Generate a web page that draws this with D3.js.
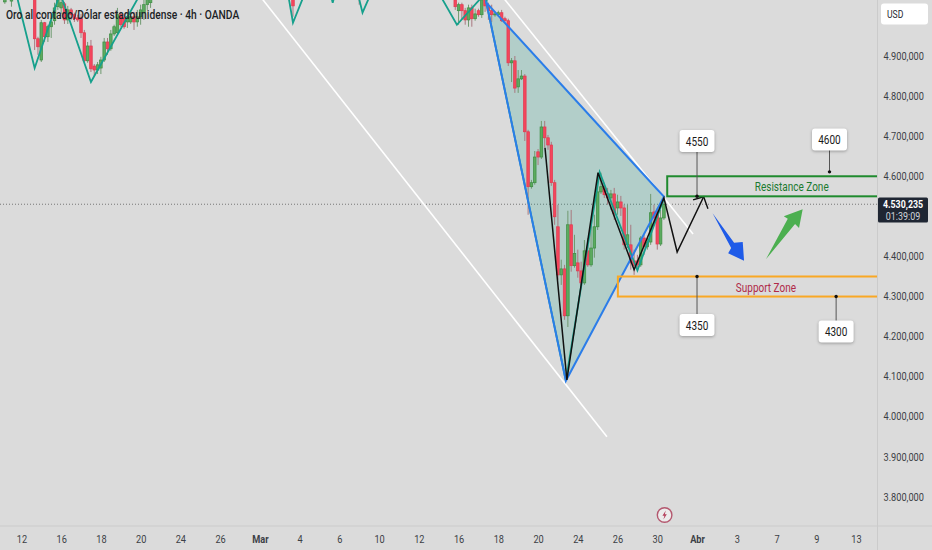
<!DOCTYPE html>
<html>
<head>
<meta charset="utf-8">
<script src="https://cdn.jsdelivr.net/npm/d3@7"></script>
<style>
	html, body { margin: 0; padding: 0; background: #dbdbdb; }
	svg { display: block; }
	text { font-family: Roboto, sans-serif; }
</style>
</head>
<body>
<svg id="canvas" width="932" height="550"></svg>
<script>
// 4h candles, prices
const bars = [-5,-3,4,5,6,7,8,9,10,11,12,13,14,15,16,17,18,19,20,21,22,23,24,25,26,27,28,29,30,31,32,33,34,35,36,37,38,39,
	82,102,
	131,132,133,134,135,136,137,138,139,140,141,142,143,144,145,146,147,148,149,150,151,152,153,154,155,156,157,158,159,160,161,162,163,164,165,166,167,168,169,170,171,172,173,174,175,176,177,178,179,180,181,182,183,184,185,186,187,188,189,190,191,192,193,194];
const opens = [5035,5037,5077,4943,4890,4983,4948,4973,4988,5023,5020,5030,4990,5015,5003,4995,4995,4958,4888,4925,4875,4865,4870,4890,4935,4918,4955,4958,5003,4995,4985,4985,4998,4985,4998,5008,5028,5033,
	5045,5060,
	5040,5013,5028,5013,4990,5020,4993,5013,5003,5040,5025,5013,5003,5003,5008,4993,4988,4883,4888,4823,4843,4850,4711,4574,4584,4661,4648,4723,4696,4678,4584,4474,4354,4369,4252,4479,4377,4384,4364,4334,4414,4379,4421,4474,4561,4574,4556,4546,4556,4521,4536,4521,4429,4429,4389,4389,4379,4446,4424,4436,4511,4511,4431,4496];
const highs = [5060,5060,5090,4948,4990,4985,4978,4990,5033,5047,5043,5035,5025,5020,5008,5003,5005,4965,4935,4940,4880,4885,4898,4945,4945,4965,4978,5020,5010,5005,5005,5010,5010,5015,5028,5040,5052,5060,
	5050,5065,
	5047,5033,5033,5020,5028,5028,5018,5018,5045,5045,5033,5028,5010,5013,5015,4998,4993,4895,4900,4865,4865,4855,4716,4591,4663,4668,4738,4738,4703,4686,4591,4529,4392,4379,4514,4516,4454,4417,4387,4441,4446,4479,4504,4601,4609,4584,4571,4566,4571,4554,4551,4529,4529,4479,4417,4404,4451,4454,4446,4556,4529,4521,4516,4546];
const lows = [5030,5023,4915,4903,4885,4935,4935,4945,4978,5015,5005,4980,4980,4990,4985,4985,4945,4883,4883,4860,4850,4855,4855,4885,4903,4913,4950,4953,4973,4968,4970,4980,4965,4973,4978,4990,5015,5020,
	4998,5028,
	5015,4978,4990,4978,4973,4973,4988,4998,4995,5010,4990,4985,4998,4998,4985,4983,4875,4835,4808,4808,4840,4688,4504,4569,4579,4628,4643,4671,4666,4576,4479,4342,4329,4242,4224,4362,4372,4347,4329,4329,4374,4374,4397,4466,4556,4546,4529,4516,4491,4504,4501,4417,4421,4367,4354,4372,4374,4404,4417,4429,4486,4417,4426,4491];
const closes = [5052,5052,4943,4923,4983,4948,4973,4985,5020,5040,5033,4990,5015,5003,4993,4990,4958,4888,4925,4868,4865,4878,4890,4935,4918,4955,4973,5003,4978,4973,4998,4998,4985,4998,5015,5028,5047,5052,
	5025,5055,
	5023,5028,5013,4990,5020,4993,5005,5003,5040,5025,5013,5003,5005,5008,4988,4988,4883,4888,4820,4843,4850,4711,4574,4584,4648,4648,4723,4696,4678,4584,4499,4354,4369,4252,4479,4377,4407,4364,4334,4414,4379,4421,4474,4561,4574,4554,4546,4556,4506,4536,4521,4429,4454,4384,4377,4379,4446,4424,4436,4509,4496,4431,4496,4530.235];

const lastPrice = 4530.235;
const countdown = "01:39:09";

const priceTicks = [4900,4800,4700,4600,4400,4300,4200,4100,4000,3900,3800];
const dateTicks = d3.range(0, 253, 12);
const dateLabels = ["12","16","18","20","24","26","Mar","4","6","10","12","16","18","20","24","26","30","Abr","3","7","9","13"];
const monthLabels = ["Mar","Abr"];

// drawings, all as [bar, price]
const zigzagTeal = [[-2,5070],[4,4870],[11.7,5057],[21,4835],[40,5115],[80.3,5065],[82,4983],[86,5065],[93,5065],[94,5033],[95,5065],[101.3,5065],[103,5008],[106,5065],[125.5,5065],[131.5,4978],[141,5065],[140.4,5033],[164.4,4090],[174.6,4610],[186,4365],[194,4545]];
const zigzagBlack = [[158.1,4671],[164.7,4092],[174.1,4609],[185,4367],[194,4546],[198,4411],[206,4549]];
const arrowHead = [[202.8,4541],[206,4549],[207.3,4519]];
const triangle = [[140.4,5033],[194,4549],[164.4,4090]];
const trendLower = [[70,5071],[176.8,3950]];
const trendUpper = [[143.6,5065],[202.8,4456]];
const blueArrow = [[208.7,4508],[215.2,4434],[217.8,4436],[218.2,4389],[213.4,4408],[214.3,4421]];
const greenArrow = [[224.8,4393],[231.4,4494],[230.2,4500],[235.9,4518],[234.8,4471],[233.6,4481]];

const zoneNames = ["Resistance Zone","Support Zone"];
const zoneTops = [4600,4350];
const zoneBottoms = [4550,4300];
const zoneStarts = [195,180.1];
const zoneLabelBars = [232.6,224.8];

const calloutLabels = ["4550","4600","4350","4300"];
const calloutBars = [204,244,204,246];
const calloutPrices = [4550,4611,4350,4300];
const calloutBoxPrices = [4688,4692,4229,4213];

const width = 932, height = 550;
const plotRight = 877.5, plotBottom = 526;
const svg = d3.select("#canvas");

const x = d3.scaleLinear().domain([0, 252]).range([21.4, 856]);
const y = d3.scaleLinear().domain([4900, 3800]).range([56, 497]);
const line = d3.line().x(d => x(d[0])).y(d => y(d[1]));

const priceFormat = d3.formatLocale({ decimal: ",", thousands: ".", grouping: [3], currency: ["", ""] }).format(",.3f");

// the reference's text is narrower than any installed face, so squeeze it
function squeeze(selection, k) {
	selection
		.attr("textLength", function () { return this.getComputedTextLength() * k; })
		.attr("lengthAdjust", "spacingAndGlyphs");
}

svg.append("rect").attr("width", width).attr("height", height).attr("fill", "#dbdbdb");
svg.append("clipPath").attr("id", "plot")
	.append("rect").attr("width", plotRight).attr("height", plotBottom);

const plot = svg.append("g").attr("clip-path", "url(#plot)");

// current price line
plot.append("line")
	.attr("x1", 0).attr("x2", plotRight)
	.attr("y1", y(lastPrice)).attr("y2", y(lastPrice))
	.attr("stroke", "#777").attr("stroke-width", 1).attr("stroke-dasharray", "1 2");

// triangle fill goes under the candles
plot.append("path")
	.attr("d", line(triangle) + "Z")
	.attr("fill", "#0f9a80").attr("fill-opacity", 0.2);

// candles
const candles = plot.append("g").selectAll("g")
	.data(bars.map((b, i) => ({ b, o: opens[i], h: highs[i], l: lows[i], c: closes[i] })))
	.join("g");
candles.append("line")
	.attr("x1", d => x(d.b)).attr("x2", d => x(d.b))
	.attr("y1", d => y(d.h)).attr("y2", d => y(d.l))
	.attr("stroke", d => d.c >= d.o ? "#6f9a70" : "#a8787f")
	.attr("stroke-width", 1);
candles.append("rect")
	.attr("x", d => x(d.b) - 1.3)
	.attr("width", 2.6)
	.attr("y", d => y(Math.max(d.o, d.c)))
	.attr("height", d => Math.max(1, Math.abs(y(d.o) - y(d.c))))
	.attr("fill", d => d.c >= d.o ? "#5cab5f" : "#f4465c")
	.attr("stroke", d => d.c >= d.o ? "#3c8c42" : "#e23a50")
	.attr("stroke-width", 0.7);

// trend lines
[trendLower, trendUpper].forEach(t => {
	plot.append("path").attr("d", line(t))
		.attr("fill", "none").attr("stroke", "#fff").attr("stroke-width", 1.6);
});

plot.append("path").attr("d", line(zigzagTeal))
	.attr("fill", "none").attr("stroke", "#16a08c").attr("stroke-width", 1.8);

plot.append("path").attr("d", line(triangle) + "Z")
	.attr("fill", "none").attr("stroke", "#2b7de9").attr("stroke-width", 2);

plot.append("path").attr("d", line(zigzagBlack))
	.attr("fill", "none").attr("stroke", "#111").attr("stroke-width", 1.5);
plot.append("path").attr("d", line(arrowHead))
	.attr("fill", "none").attr("stroke", "#111").attr("stroke-width", 1.4);

plot.append("path").attr("d", line(blueArrow) + "Z").attr("fill", "#1f5be8");
plot.append("path").attr("d", line(greenArrow) + "Z").attr("fill", "#4caf50");

// zones
const zoneStroke = ["#1f8a2e", "#f9a825"];
const zoneText = ["#1b7a30", "#b02a48"];
zoneNames.forEach((name, i) => {
	plot.append("rect")
		.attr("x", x(zoneStarts[i]))
		.attr("y", y(zoneTops[i]))
		.attr("width", plotRight + 20 - x(zoneStarts[i]))
		.attr("height", y(zoneBottoms[i]) - y(zoneTops[i]))
		.attr("fill", "none")
		.attr("stroke", zoneStroke[i]).attr("stroke-width", 2);
	plot.append("text")
		.attr("x", x(zoneLabelBars[i]))
		.attr("y", y((zoneTops[i] + zoneBottoms[i]) / 2) + 0.5)
		.attr("text-anchor", "middle").attr("dominant-baseline", "central")
		.attr("font-size", 12.5)
		.attr("fill", zoneText[i])
		.text(name)
		.call(squeeze, 0.8);
});

// callouts
calloutLabels.forEach((label, i) => {
	const cx = x(calloutBars[i]);
	const boxY = y(calloutBoxPrices[i]);
	plot.append("line")
		.attr("x1", cx).attr("x2", cx)
		.attr("y1", y(calloutPrices[i])).attr("y2", boxY)
		.attr("stroke", "#555").attr("stroke-width", 1);
	plot.append("circle")
		.attr("cx", cx).attr("cy", y(calloutPrices[i])).attr("r", 1.7).attr("fill", "#111");
	plot.append("rect")
		.attr("x", cx - 17.5).attr("y", boxY - 11)
		.attr("width", 35).attr("height", 22).attr("rx", 3)
		.attr("fill", "#fff")
		.style("filter", "drop-shadow(0 1px 1.5px rgba(0,0,0,0.3))");
	plot.append("text")
		.attr("x", cx).attr("y", boxY + 0.5)
		.attr("text-anchor", "middle").attr("dominant-baseline", "central")
		.attr("font-size", 12.5).attr("fill", "#1a1a1a")
		.text(label)
		.call(squeeze, 0.8);
});

// title
svg.append("text")
	.attr("x", 6).attr("y", 14)
	.attr("dominant-baseline", "central")
	.attr("font-size", 13).attr("font-weight", 500)
	.attr("fill", "#1c1f26")
	.text("Oro al contado/Dólar estadounidense · 4h · OANDA")
	.call(squeeze, 0.79);

// axes
svg.append("line").attr("x1", plotRight).attr("x2", plotRight).attr("y1", 0).attr("y2", height).attr("stroke", "#cbcbcb");
svg.append("line").attr("x1", 0).attr("x2", width).attr("y1", plotBottom).attr("y2", plotBottom).attr("stroke", "#cbcbcb");

const yAxis = svg.append("g")
	.attr("transform", `translate(${plotRight},-0.6)`)
	.call(d3.axisRight(y).tickValues(priceTicks).tickSize(0).tickPadding(6).tickFormat(priceFormat));
yAxis.select(".domain").remove();
// scale rather than textLength so the boxes stay inside the page
yAxis.selectAll("text")
	.attr("font-size", 11.5).attr("fill", "#3c3f46")
	.style("font-family", "Roboto, sans-serif")
	.attr("x", 6 / 0.8)
	.attr("transform", "scale(0.8,1)");

const xAxis = svg.append("g")
	.attr("transform", `translate(0,${plotBottom})`)
	.call(d3.axisBottom(x).tickValues(dateTicks).tickSize(0).tickPadding(9).tickFormat((d, i) => dateLabels[i]));
xAxis.select(".domain").remove();
xAxis.selectAll("text")
	.attr("font-size", 11.5).attr("fill", "#3c3f46")
	.attr("font-weight", (d, i) => monthLabels.includes(dateLabels[i]) ? 700 : 400)
	.style("font-family", "Roboto, sans-serif")
	.call(squeeze, 0.8);

// currency box
svg.append("rect").attr("x", 881).attr("y", 3.5).attr("width", 47).attr("height", 21).attr("rx", 3).attr("fill", "#fff");
svg.append("text").attr("x", 887).attr("y", 14).attr("dominant-baseline", "central")
	.attr("font-size", 11.5).attr("fill", "#23262e").text("USD")
	.call(squeeze, 0.75);

// last price tag
svg.append("rect").attr("x", 878).attr("y", 197.5).attr("width", 50).attr("height", 25).attr("rx", 1.5).attr("fill", "#1f2633");
svg.append("text").attr("x", 903).attr("y", 204.5).attr("text-anchor", "middle").attr("dominant-baseline", "central")
	.attr("font-size", 11).attr("font-weight", 700).attr("fill", "#fff").text(priceFormat(lastPrice))
	.call(squeeze, 0.8);
svg.append("text").attr("x", 903).attr("y", 216).attr("text-anchor", "middle").attr("dominant-baseline", "central")
	.attr("font-size", 10.5).attr("fill", "#cfd3da").text(countdown)
	.call(squeeze, 0.85);

// lightning badge on the time axis
const badge = svg.append("g").attr("transform", `translate(${x(194) + 0.7},515)`);
badge.append("circle").attr("r", 7.3).attr("fill", "#ececec").attr("stroke", "#b4586f").attr("stroke-width", 1.4);
badge.append("path").attr("d", "M1.2,-4.5 L-2.2,0.8 L-0.2,0.8 L-1.2,4.5 L2.2,-0.8 L0.2,-0.8 Z").attr("fill", "#b4405c");
</script>
</body>
</html>
